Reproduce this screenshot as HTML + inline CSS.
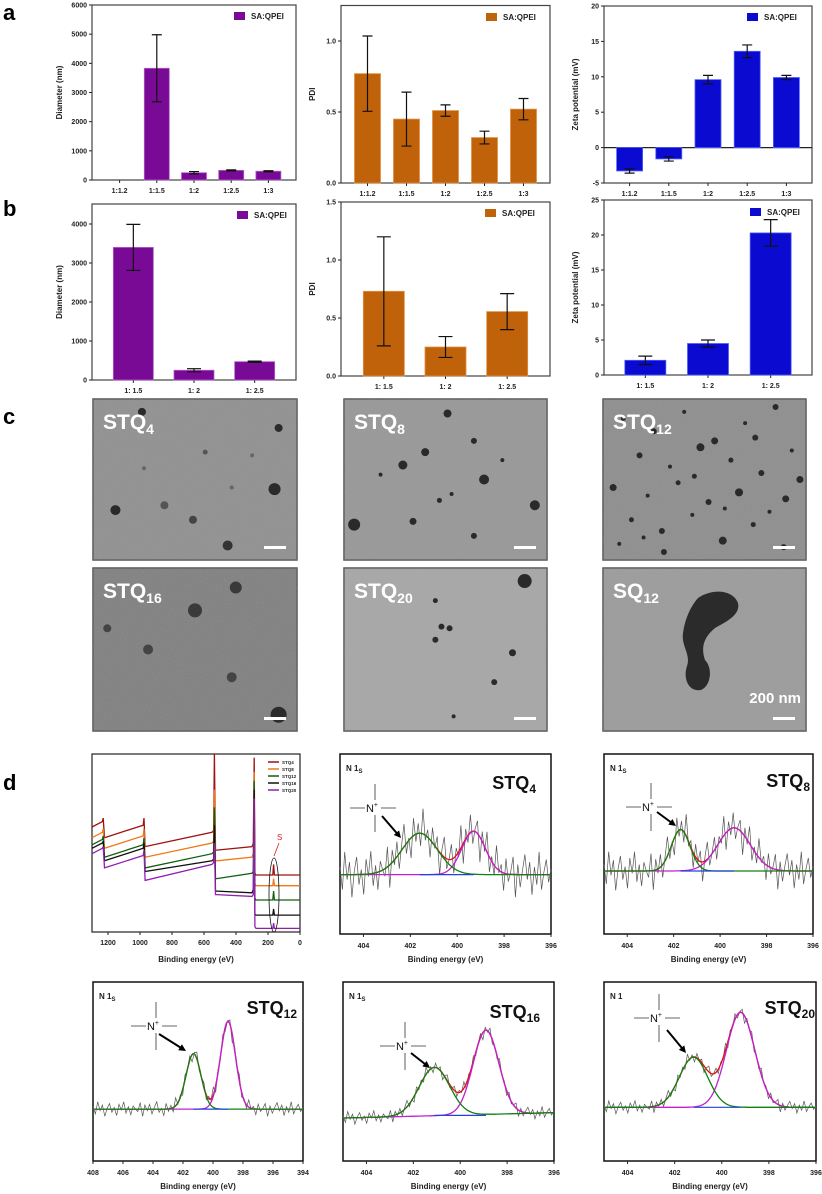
<!DOCTYPE html>
<html><head><meta charset="utf-8"><style>
html,body{margin:0;padding:0;background:#fff;}
svg{display:block;font-family:"Liberation Sans",sans-serif;}
</style></head><body>
<svg id="fig" xmlns="http://www.w3.org/2000/svg" width="822" height="1194" viewBox="0 0 822 1194">
<defs>
<filter id="grain" x="0" y="0" width="100%" height="100%"><feTurbulence type="fractalNoise" baseFrequency="0.9" numOctaves="2" seed="3"/><feColorMatrix type="matrix" values="0 0 0 0 0.4  0 0 0 0 0.4  0 0 0 0 0.4  0 0 0 0.35 0"/></filter>
</defs>
<g font-weight="bold" font-size="22" fill="#000">
<text x="3" y="20">a</text>
<text x="3" y="216">b</text>
<text x="3" y="424">c</text>
<text x="3" y="790">d</text>
</g>
</svg>
<script>
// ---------- Bar chart data ----------
const catsA = ["1:1.2","1:1.5","1:2","1:2.5","1:3"];
const diamA = [0,3830,250,330,300];
const diamAErr = [0,1150,40,20,20];
const pdiA = [0.77,0.45,0.51,0.32,0.52];
const pdiAErr = [0.265,0.19,0.04,0.045,0.075];
const zetaA = [-3.3,-1.6,9.6,13.6,9.9];
const zetaAErr = [0.3,0.3,0.6,0.9,0.3];
const catsB = ["1: 1.5","1: 2","1: 2.5"];
const diamB = [3400,250,470];
const diamBErr = [590,40,15];
const pdiB = [0.73,0.25,0.555];
const pdiBErr = [0.47,0.09,0.155];
const zetaB = [2.1,4.5,20.3];
const zetaBErr = [0.6,0.5,1.9];
const diamATicks = [0,1000,2000,3000,4000,5000,6000];
const pdiATicks = [0,0.5,1.0];
const zetaATicks = [-5,0,5,10,15,20];
const diamBTicks = [0,1000,2000,3000,4000];
const pdiBTicks = [0,0.5,1.0,1.5];
const zetaBTicks = [0,5,10,15,20,25];

// ---------- XPS data ----------
const surveyBE = [1300,1235,1230,1222,980,975,968,550,540,535,528,520,300,292,286,282,275,170,165,160,0];
const surveyRed    = [0.59,0.62,0.64,0.53,0.60,0.64,0.48,0.56,0.57,1.0,0.46,0.46,0.48,0.50,0.98,0.33,0.32,0.32,0.38,0.32,0.32];
const surveyOrange = [0.53,0.56,0.58,0.47,0.54,0.58,0.42,0.50,0.51,0.80,0.40,0.40,0.42,0.44,0.90,0.27,0.26,0.26,0.30,0.26,0.26];
const surveyGreen  = [0.49,0.52,0.54,0.42,0.49,0.53,0.36,0.44,0.45,0.70,0.30,0.30,0.33,0.34,0.85,0.19,0.18,0.18,0.23,0.18,0.18];
const surveyBlack  = [0.47,0.50,0.51,0.40,0.47,0.50,0.34,0.40,0.41,0.60,0.23,0.23,0.22,0.24,0.80,0.10,0.095,0.095,0.13,0.095,0.095];
const surveyPurple = [0.44,0.47,0.48,0.36,0.43,0.46,0.29,0.38,0.39,0.50,0.21,0.21,0.20,0.21,0.75,0.03,0.02,0.02,0.05,0.02,0.02];
const surveyTicks = [1200,1000,800,600,400,200,0];
const n1sTicksA = [404,402,400,398,396];
const n1sTicksB = [408,406,404,402,400,398,396,394];
// peaks: [center eV, amplitude(frac), sigma eV]
const stq4Peaks  = [[401.6,0.23,0.75],[399.3,0.24,0.5]];
const stq8Peaks  = [[401.7,0.23,0.4],[399.4,0.24,0.7]];
const stq12Peaks = [[401.3,0.31,0.5],[399.0,0.49,0.5]];
const stq16Peaks = [[401.1,0.27,0.65],[398.9,0.47,0.55]];
const stq20Peaks = [[401.2,0.28,0.6],[399.2,0.53,0.6]];
const noise = [0.3,-0.6,0.9,-0.2,0.5,-0.9,0.1,0.7,-0.4,0.2,-0.8,0.6,-0.1,0.9,-0.5,0.3,-0.7,0.4,0.0,-0.3,0.8,-0.9,0.5,-0.2,0.6,-0.6,0.2,0.9,-0.4,0.1,
 -0.8,0.7,-0.3,0.4,-0.5,1.0,-0.2,0.3,-0.7,0.6,-0.1,0.5,-0.9,0.2,0.8,-0.4,0.0,0.6,-0.6,0.3,-0.2,0.9,-0.8,0.4,-0.3,0.7,-0.5,0.1,0.5,-1.0,
 0.4,-0.2,0.8,-0.6,0.2,-0.4,0.9,-0.1,0.3,-0.7,0.6,-0.3,0.1,0.7,-0.9,0.4,-0.5,0.2,0.8,-0.2,0.5,-0.8,0.3,-0.4,0.9,-0.6,0.1,0.6,-0.3,0.2];

const NS='http://www.w3.org/2000/svg';
const svg=document.getElementById('fig');
function mk(tag,attrs,parent){const e=document.createElementNS(NS,tag);for(const k in attrs)e.setAttribute(k,attrs[k]);(parent||svg).appendChild(e);return e;}

function barChart(o){
  const g=mk('g',{});
  
  
  const n=o.cats.length, band=(o.x1-o.x0-2*o.pad)/n;
  const ys=v=>o.yb-(v-o.ymin)/(o.ymax-o.ymin)*(o.yb-o.yt);
  const xc=i=>o.x0+o.pad+(i+0.5)*band;
  const frame=mk('rect',{x:o.x0,y:o.yt,width:o.x1-o.x0,height:o.yb-o.yt,fill:'none',stroke:'#444','stroke-width':1.2},g);
  
  
  o.ticks.forEach(t=>{
    const y=ys(t);
    mk('line',{x1:o.x0-3,x2:o.x0,y1:y,y2:y,stroke:'#222','stroke-width':1},g);
    const tl=mk('text',{x:o.x0-5,y:y+2.5,'font-size':7,'font-weight':'bold','text-anchor':'end',fill:'#222'},g);
    tl.textContent=o.fmt(t);
    
    
  });
  if(o.ymin<0){mk('line',{x1:o.x0,x2:o.x1,y1:ys(0),y2:ys(0),stroke:'#222','stroke-width':1.2},g);}
  o.cats.forEach((c,i)=>{
    const x=xc(i);
    mk('line',{x1:x,x2:x,y1:o.yb,y2:o.yb+3,stroke:'#222','stroke-width':1},g);
    const xl=mk('text',{x:x,y:o.yb+13,'font-size':7,'font-weight':'bold','text-anchor':'middle',fill:'#222'},g);
    xl.textContent=c;
    
    
    const v=o.vals[i];
    if(v!==0){
      const y0=ys(0),y1=ys(v);
      const b=mk('rect',{x:x-o.bw/2,y:Math.min(y0,y1),width:o.bw,height:Math.abs(y1-y0),fill:o.color,stroke:o.edge,'stroke-width':0.8},g);
      
      
      const e=o.errs[i], ya=ys(v+e), yb2=ys(v-e);
      const eb=mk('path',{d:`M${x},${ya}V${yb2}M${x-o.cap},${ya}H${x+o.cap}M${x-o.cap},${yb2}H${x+o.cap}`,stroke:'#111','stroke-width':1.2,fill:'none'},g);
      
      
    }
  });
  const sw=mk('rect',{x:o.lx,y:o.ly-4,width:11,height:8,fill:o.color},g);
  
  
  const lt=mk('text',{x:o.lx+17,y:o.ly+3,'font-size':8,'font-weight':'bold',fill:'#222'},g);
  lt.textContent='SA:QPEI';
  
  
  const yt=mk('text',{x:o.tx,y:(o.yt+o.yb)/2,'font-size':8,'font-weight':'bold','text-anchor':'middle',fill:'#222',transform:`rotate(-90 ${o.tx} ${(o.yt+o.yb)/2})`},g);
  yt.textContent=o.title;
  
  
}
const P='#790a96',PE='#b060c8',O='#c0620a',OE='#e09040',B='#0a0ad0',BE='#5060ff';
const f0=t=>String(t), f1=t=>t.toFixed(1);
barChart({name:'chart-a-diameter',cats:catsA,vals:diamA,errs:diamAErr,ticks:diamATicks,fmt:f0,x0:92,x1:296,yt:5,yb:180,ymin:0,ymax:6000,pad:9,bw:25,cap:5,color:P,edge:PE,lx:234,ly:16,tx:62,title:'Diameter (nm)'});
barChart({name:'chart-a-pdi',cats:catsA,vals:pdiA,errs:pdiAErr,ticks:pdiATicks,fmt:f1,x0:341,x1:550,yt:5.5,yb:183,ymin:0,ymax:1.25,pad:7,bw:26,cap:5,color:O,edge:OE,lx:486,ly:17,tx:315,title:'PDI'});
barChart({name:'chart-a-zeta',cats:catsA,vals:zetaA,errs:zetaAErr,ticks:zetaATicks,fmt:f0,x0:604,x1:812,yt:6,yb:183,ymin:-5,ymax:20,pad:6,bw:26,cap:5,color:B,edge:BE,lx:747,ly:17,tx:578,title:'Zeta potential (mV)'});
barChart({name:'chart-b-diameter',cats:catsB,vals:diamB,errs:diamBErr,ticks:diamBTicks,fmt:f0,x0:92,x1:296,yt:204,yb:380,ymin:0,ymax:4513,pad:11,bw:40,cap:7,color:P,edge:PE,lx:237,ly:215,tx:62,title:'Diameter (nm)'});
barChart({name:'chart-b-pdi',cats:catsB,vals:pdiB,errs:pdiBErr,ticks:pdiBTicks,fmt:f1,x0:341,x1:550,yt:202,yb:376,ymin:0,ymax:1.5,pad:12,bw:41,cap:7,color:O,edge:OE,lx:485,ly:213,tx:315,title:'PDI'});
barChart({name:'chart-b-zeta',cats:catsB,vals:zetaB,errs:zetaBErr,ticks:zetaBTicks,fmt:f0,x0:604,x1:812,yt:200,yb:375,ymin:0,ymax:25,pad:10,bw:41,cap:7,color:B,edge:BE,lx:750,ly:212,tx:578,title:'Zeta potential (mV)'});

// ---------- TEM images ----------
function tem(name,x,y,w,h,bg,label,sub,dots,blob,scale){
  const g=mk('g',{});
  
  
  mk('rect',{x:x,y:y,width:w,height:h,fill:bg,stroke:'#555','stroke-width':1.5},g);
  mk('rect',{x:x,y:y,width:w,height:h,filter:'url(#grain)'},g);
  dots.forEach(d=>{mk('circle',{cx:x+d[0]*w,cy:y+d[1]*h,r:d[2],fill:d[3]||'#2a2a2a'},g);});
  if(blob){const p=mk('path',{d:blob,fill:'#2b2b2b',transform:`translate(${x},${y})`},g);}
  const t=mk('text',{x:x+10,y:y+30,'font-size':21,'font-weight':'bold',fill:'#fff'},g);
  t.textContent=label;
  const s=mk('tspan',{'font-size':14,dy:5},t);s.textContent=sub;
  
  
  const sb=mk('rect',{x:x+w-33,y:y+h-14,width:22,height:3,fill:'#fff'},g);
  
  
  if(scale){const st=mk('text',{x:x+w-5,y:y+h-28,'font-size':15,'font-weight':'bold','text-anchor':'end',fill:'#fff'},g);st.textContent=scale;}
}
tem('tem-stq4',93,399,204,161,'#8f8f8f','STQ','4',[[0.24,0.08,4],[0.91,0.18,4],[0.89,0.56,6],[0.11,0.69,5],[0.35,0.66,4,'#555'],[0.49,0.75,4,'#444'],[0.66,0.91,5,'#333'],[0.55,0.33,2.5,'#555'],[0.78,0.35,2,'#666'],[0.25,0.43,2,'#666'],[0.68,0.55,2,'#666']]);
tem('tem-stq8',344,399,203,161,'#979797','STQ','8',[[0.51,0.09,4],[0.4,0.33,4],[0.29,0.41,4.5],[0.69,0.50,5],[0.94,0.66,5],[0.05,0.78,6],[0.34,0.76,3.5],[0.47,0.63,2.5],[0.64,0.85,3],[0.64,0.26,3],[0.53,0.59,2],[0.18,0.47,2],[0.78,0.38,2]]);
(function(){const d=[];const px=[0.1,0.25,0.4,0.55,0.7,0.85,0.18,0.33,0.48,0.63,0.78,0.93,0.05,0.22,0.37,0.52,0.67,0.82,0.97,0.14,0.29,0.44,0.59,0.74,0.89,0.08,0.3,0.45,0.6,0.75,0.9,0.2];const py=[0.12,0.2,0.08,0.26,0.15,0.05,0.35,0.42,0.3,0.38,0.46,0.32,0.55,0.6,0.52,0.64,0.58,0.7,0.5,0.75,0.82,0.72,0.88,0.78,0.92,0.9,0.95,0.48,0.68,0.24,0.62,0.86];const pr=[2.5,3,2,3.5,2,3,3,2,4,2.5,3,2,3.5,2,2.5,3,4,2,3.5,2.5,3,2,4,2.5,3,2,3,2.5,2,3,3.5,2];for(let i=0;i<px.length;i++)d.push([px[i],py[i],pr[i]]);tem('tem-stq12',603,399,203,161,'#8c8c8c','STQ','12',d);})();
tem('tem-stq16',93,568,204,163,'#7d7d7d','STQ','16',[[0.7,0.12,6,'#3a3a3a'],[0.5,0.26,7,'#3a3a3a'],[0.07,0.37,4,'#444'],[0.27,0.5,5,'#444'],[0.68,0.67,5,'#444'],[0.91,0.9,8,'#2c2c2c']]);
tem('tem-stq20',344,568,203,163,'#a8a8a8','STQ','20',[[0.89,0.08,7],[0.45,0.2,2.5],[0.48,0.36,3],[0.52,0.37,3],[0.45,0.44,3],[0.83,0.52,3.5],[0.74,0.7,3],[0.54,0.91,2]]);
tem('tem-sq12',603,568,203,163,'#9b9b9b','SQ','12',[],'M95,30 C110,20 130,22 135,35 C138,48 120,55 112,60 C100,70 98,80 102,92 C110,100 108,118 98,122 C85,124 80,110 84,98 C88,86 78,78 80,65 C82,50 88,38 95,30 Z','200 nm');

// ---------- XPS survey ----------
(function(){
  const x0=92,x1=300,yt=754,yb=932;
  const g=mk('g',{});
  
  
  const xs=be=>x0+(1300-be)/1300*(x1-x0);
  const ys=f=>yb-f*(yb-yt);
  mk('rect',{x:x0,y:yt,width:x1-x0,height:yb-yt,fill:'none',stroke:'#222','stroke-width':1.2},g);
  const series=[[surveyRed,'#a01010','STQ4'],[surveyOrange,'#f07818','STQ8'],[surveyGreen,'#106010','STQ12'],[surveyBlack,'#111','STQ16'],[surveyPurple,'#9020b0','STQ20']];
  series.forEach((s,k)=>{
    const pts=surveyBE.map((be,i)=>`${xs(be).toFixed(1)},${ys(s[0][i]).toFixed(1)}`).join(' ');
    const pl=mk('polyline',{points:pts,fill:'none',stroke:s[1],'stroke-width':1.3},g);
    
    
    mk('line',{x1:268,x2:279,y1:762+k*7,y2:762+k*7,stroke:s[1],'stroke-width':1.5},g);
    const lt=mk('text',{x:282,y:764+k*7,'font-size':4.5,'font-weight':'bold',fill:'#222'},g);
    lt.textContent=s[2];
    
    
  });
  mk('ellipse',{cx:274,cy:895,rx:5,ry:37,fill:'none',stroke:'#111','stroke-width':0.8},g);
  const st=mk('text',{x:277,y:840,'font-size':8,fill:'#e02020'},g);st.textContent='S';
  mk('line',{x1:279,y1:843,x2:274,y2:856,stroke:'#e02020','stroke-width':0.8},g);
  surveyTicks.forEach(t=>{const x=xs(t);mk('line',{x1:x,x2:x,y1:yb,y2:yb+3,stroke:'#222'},g);const tl=mk('text',{x:x,y:yb+13,'font-size':7,'font-weight':'bold','text-anchor':'middle',fill:'#222'},g);tl.textContent=t;});
  const ti=mk('text',{x:(x0+x1)/2,y:962,'font-size':8,'font-weight':'bold','text-anchor':'middle',fill:'#222'},g);
  ti.textContent='Binding energy (eV)';
  
  
})();

// ---------- N1s panels ----------
function n1s(o){
  const g=mk('g',{});
  
  
  const {x0,x1,yt,yb,hi,lo}=o;
  const xs=e=>x0+(hi-e)/(hi-lo)*(x1-x0);
  const ys=f=>yb-f*(yb-yt);
  const gau=(p,e)=>p[1]*Math.exp(-((e-p[0])**2)/(2*p[2]*p[2]));
  const N=noise.length, pts=[], red=[], gr=[], mg=[];
  for(let i=0;i<N;i++){
    const e=hi-(hi-lo)*i/(N-1);
    const b=o.base+(o.slope||0)*(i/(N-1));
    const g1=gau(o.peaks[0],e), g2=gau(o.peaks[1],e);
    pts.push(`${xs(e).toFixed(1)},${ys(b+g1+g2+noise[i]*o.nz).toFixed(1)}`);
  }
  for(let i=0;i<=200;i++){
    const e=hi-(hi-lo)*i/200;
    const b=o.base+(o.slope||0)*(i/200);
    const g1=gau(o.peaks[0],e), g2=gau(o.peaks[1],e);
    red.push(`${xs(e).toFixed(1)},${ys(b+g1+g2).toFixed(1)}`);
    gr.push(`${xs(e).toFixed(1)},${ys(b+g1).toFixed(1)}`);
    mg.push(`${xs(e).toFixed(1)},${ys(b+g2).toFixed(1)}`);
  }
  mk('rect',{x:x0,y:yt,width:x1-x0,height:yb-yt,fill:'#fff',stroke:'#111','stroke-width':1.5},g);
  const raw=mk('polyline',{points:pts.join(' '),fill:'none',stroke:'#555','stroke-width':0.7},g);
  
  
  const r=mk('polyline',{points:red.join(' '),fill:'none',stroke:'#e01010','stroke-width':1.3},g);
  
  
  const m=mk('polyline',{points:mg.join(' '),fill:'none',stroke:'#c020d0','stroke-width':1.3},g);
  
  
  const gg=mk('polyline',{points:gr.join(' '),fill:'none',stroke:'#108010','stroke-width':1.3},g);
  
  
  const mid=(o.base+(o.slope||0)*0.5);
  mk('line',{x1:xs(o.peaks[0][0]),x2:xs(o.peaks[1][0]),y1:ys(mid),y2:ys(mid),stroke:'#2040e0','stroke-width':1.2},g);
  o.ticks.forEach(t=>{const x=xs(t);mk('line',{x1:x,x2:x,y1:yb,y2:yb+3,stroke:'#222'},g);const tl=mk('text',{x:x,y:yb+14,'font-size':7,'font-weight':'bold','text-anchor':'middle',fill:'#222'},g);tl.textContent=t;});
  const ti=mk('text',{x:(x0+x1)/2,y:yb+28,'font-size':8,'font-weight':'bold','text-anchor':'middle',fill:'#222'},g);
  ti.textContent='Binding energy (eV)';
  
  
  const nl=mk('text',{x:x0+6,y:yt+17,'font-size':8,'font-weight':'bold',fill:'#222'},g);
  nl.textContent='N 1';
  const ns=mk('tspan',{'font-size':6,dy:2},nl);ns.textContent=o.nsub;
  
  
  const sl=mk('text',{x:o.lbx,y:o.lby,'font-size':18,'font-weight':'bold',fill:'#111','text-anchor':'end'},g);
  sl.textContent='STQ';
  const ss=mk('tspan',{'font-size':12,dy:4},sl);ss.textContent=o.sub;
  
  
  const [nx,ny]=o.np;
  const nt=mk('text',{x:nx,y:ny+4,'font-size':11,'text-anchor':'middle',fill:'#111'},g);
  nt.textContent='N';
  const sup=mk('tspan',{'font-size':7,dy:-5},nt);sup.textContent='+';
  
  
  mk('path',{d:`M${nx-22},${ny}H${nx-7}M${nx+9},${ny}H${nx+24}M${nx+3},${ny-24}V${ny-8}M${nx+3},${ny+7}V${ny+24}`,stroke:'#333','stroke-width':0.8,fill:'none'},g);
  const [ax1,ay1,ax2,ay2]=o.arrow;
  const ang=Math.atan2(ay2-ay1,ax2-ax1);
  mk('line',{x1:ax1,y1:ay1,x2:ax2-4*Math.cos(ang),y2:ay2-4*Math.sin(ang),stroke:'#000','stroke-width':2},g);
  const hx=ax2,hy=ay2;
  mk('polygon',{points:`${hx},${hy} ${hx-7*Math.cos(ang)+3.5*Math.sin(ang)},${hy-7*Math.sin(ang)-3.5*Math.cos(ang)} ${hx-7*Math.cos(ang)-3.5*Math.sin(ang)},${hy-7*Math.sin(ang)+3.5*Math.cos(ang)}`,fill:'#000'},g);
}
n1s({name:'xps-n1s-stq4',x0:340,x1:551,yt:754,yb:934,hi:405,lo:396,peaks:stq4Peaks,base:0.33,nz:0.14,ticks:n1sTicksA,sub:'4',nsub:'S',lbx:536,lby:789,np:[372,808],arrow:[382,816,401,838]});
n1s({name:'xps-n1s-stq8',x0:604,x1:813,yt:754,yb:934,hi:405,lo:396,peaks:stq8Peaks,base:0.35,nz:0.12,ticks:n1sTicksA,sub:'8',nsub:'S',lbx:810,lby:787,np:[648,807],arrow:[657,812,676,826]});
n1s({name:'xps-n1s-stq12',x0:93,x1:303,yt:982,yb:1161,hi:408,lo:394,peaks:stq12Peaks,base:0.29,nz:0.045,ticks:n1sTicksB,sub:'12',nsub:'S',lbx:297,lby:1014,np:[153,1026],arrow:[159,1034,186,1051]});
n1s({name:'xps-n1s-stq16',x0:343,x1:554,yt:982,yb:1161,hi:405,lo:396,peaks:stq16Peaks,base:0.24,slope:0.03,nz:0.04,ticks:n1sTicksA,sub:'16',nsub:'S',lbx:540,lby:1018,np:[402,1046],arrow:[411,1053,430,1068]});
n1s({name:'xps-n1s-stq20',x0:604,x1:816,yt:982,yb:1161,hi:405,lo:396,peaks:stq20Peaks,base:0.3,nz:0.04,ticks:n1sTicksA,sub:'20',nsub:'',lbx:815,lby:1014,np:[656,1018],arrow:[667,1030,686,1053]});
</script>
</body></html>
